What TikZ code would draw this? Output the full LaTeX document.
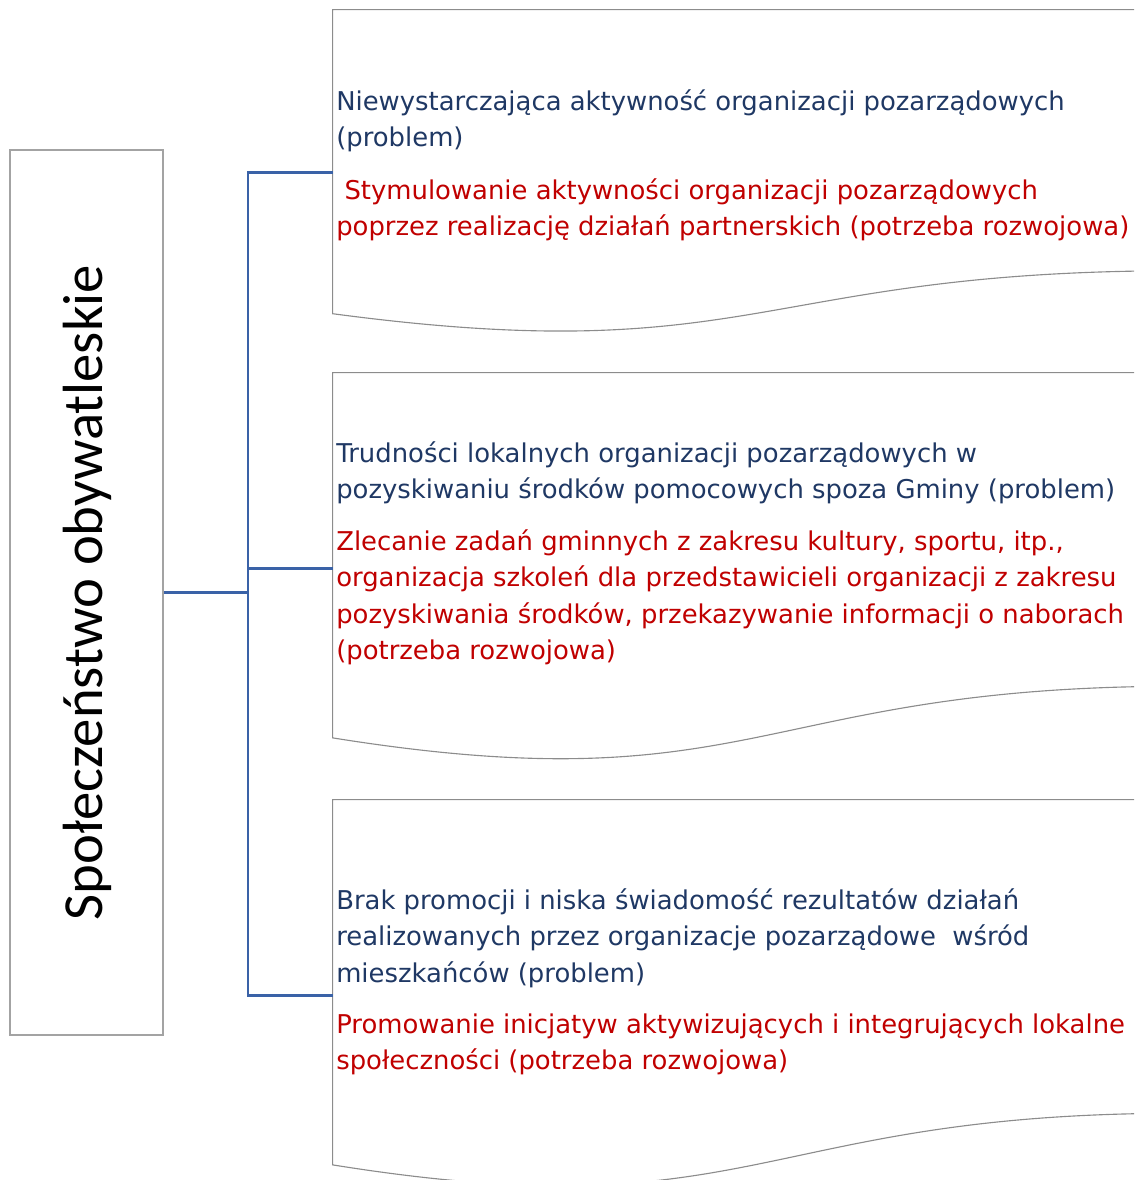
\documentclass[tikz,border=0pt]{standalone}
\usepackage{fontspec}
\setmainfont{DejaVu Sans}
\newfontfamily\calibfont{Carlito}
\usetikzlibrary{positioning}
\definecolor{probblue}{HTML}{1F3864}
\definecolor{needred}{HTML}{C00000}
\definecolor{linkblue}{HTML}{3A62A7}
\definecolor{edgegray}{HTML}{8C8C8C}

\begin{document}
\begin{tikzpicture}[x=0.025cm,y=-0.025cm,
  sidebox/.style={draw=edgegray!80,line width=0.9pt,minimum width=3.825cm,minimum height=22.125cm,inner sep=0},
  docbox/.style={minimum width=21.175cm,inner sep=0},
  docline/.style={draw=edgegray,line width=0.8pt},
  link/.style={draw=linkblue,line width=1.8pt},
  txt/.style={anchor=north west,inner sep=0,align=left,font=\fontsize{18.4}{25.8}\selectfont},
  prob/.style={txt,text=probblue},
  need/.style={txt,text=needred}]
 \path[use as bounding box,clip](0,0) rectangle (1134,1180);
 % left box
 \node[sidebox] (side) at (86.5,592.5) {};
 \node[rotate=90,anchor=base,inner sep=0,font=\calibfont\fontsize{40.3}{48}\selectfont] (sidetext) at (102,592.5) {Społeczeństwo obywatleskie};
 % documents
 \node[docbox,minimum height=8.1375cm] (doc1) at (756.5,172.75) {};
 \node[docbox,minimum height=9.775cm] (doc2) at (756.5,568.5) {};
 \node[docbox,minimum height=9.775cm] (doc3) at (756.5,995.5) {};
 \foreach \d/\h in {doc1/325.5,doc2/391,doc3/391}
  \draw[docline,shift={(\d.north west)}] (0,0) -- (847,0) -- (847,0.802*\h)
    .. controls (423.5,0.802*\h) and (423.5,1.1075*\h) .. (0,0.934*\h) -- cycle;
 % connectors
 \coordinate (fork) at (248,592.5);
 \draw[link] (side.east) -- (fork);
 \draw[link] (fork) |- (doc1.west);
 \draw[link] (fork) |- (doc2.west);
 \draw[link] (fork) |- (doc3.west);
 % texts
 \node[prob] (prob1) at (336,85) {\strut Niewystarczająca aktywność organizacji pozarządowych\\(problem)};
 \node[need] (need1) at (336,174) {\strut\ Stymulowanie aktywności organizacji pozarządowych\\poprzez realizację działań partnerskich (potrzeba rozwojowa)};
 \node[prob] (prob2) at (336,437) {\strut Trudności lokalnych organizacji pozarządowych w\\pozyskiwaniu środków pomocowych spoza Gminy (problem)};
 \node[need] (need2) at (336,525) {\strut Zlecanie zadań gminnych z zakresu kultury, sportu, itp.,\\organizacja szkoleń dla przedstawicieli organizacji z zakresu\\pozyskiwania środków, przekazywanie informacji o naborach\\(potrzeba rozwojowa)};
 \node[prob] (prob3) at (336,884) {\strut Brak promocji i niska świadomość rezultatów działań\\realizowanych przez organizacje pozarządowe\ \ wśród\\mieszkańców (problem)};
 \node[need] (need3) at (336,1008) {\strut Promowanie inicjatyw aktywizujących i integrujących lokalne\\społeczności (potrzeba rozwojowa)};
\end{tikzpicture}
\end{document}
